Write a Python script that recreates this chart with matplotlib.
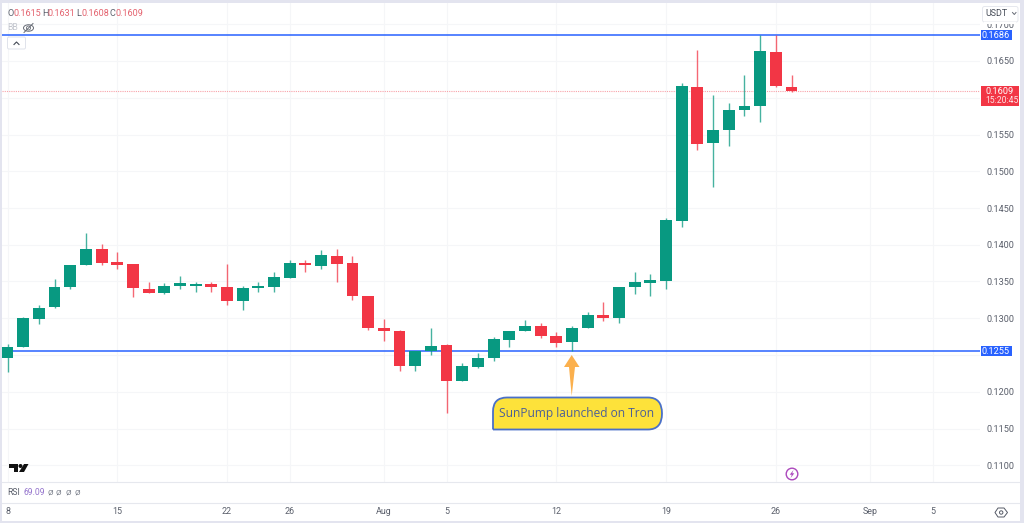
import matplotlib
matplotlib.use("Agg")
import matplotlib.pyplot as plt
from matplotlib.patches import FancyBboxPatch, Rectangle, Polygon, Circle, Ellipse, PathPatch
from matplotlib.path import Path

plt.rcParams['font.family'] = ['Roboto', 'DejaVu Sans']

opens = [.12463, .12609, .12994, .13157, .13429, .13725, .13942, .13761, .13738, .13394,
         .13344, .13443, .13443, .13470, .13429, .13235, .13412, .13421, .13552, .13748,
         .13711, .13847, .13748, .13307, .12872, .12827, .12350, .12554, .12636, .12146,
         .12341, .12463, .12704, .12831, .12895, .12763, .12677, .12863, .13040, .12999,
         .13425, .13480, .13511, .14327, .16142, .15384, .15557, .15829, .15884, .16623,
         .1615]
highs = [.12650, .13015, .13180, .13534, .13725, .14160, .14010, .13897, .13738, .13497,
         .13476, .13575, .13497, .13497, .13734, .13443, .13489, .13633, .13793, .13793,
         .13929, .13942, .13847, .13307, .12990, .12840, .12554, .12867, .12646, .12387,
         .12523, .12741, .12831, .12976, .12931, .12817, .12899, .13081, .13217, .13421,
         .13629, .13598, .14368, .16197, .16650, .16037, .15925, .16310, .16860, .16860,
         .1631]
lows = [.12273, .12605, .12922, .13140, .13398, .13720, .13725, .13666, .13285, .13344,
        .13330, .13394, .13361, .13361, .13180, .13112, .13353, .13353, .13552, .13633,
        .13674, .13497, .13248, .12840, .12695, .12286, .12286, .12504, .11707, .12146,
        .12327, .12418, .12613, .12831, .12735, .12613, .12554, .12863, .12963, .12931,
        .13326, .13307, .13394, .14238, .15289, .14790, .15348, .15756, .15674, .16146,
        .1608]
closes = [.12609, .13008, .13144, .13429, .13720, .13942, .13748, .13725, .13408, .13344,
          .13443, .13480, .13462, .13421, .13235, .13412, .13439, .13557, .13748, .13725,
          .13857, .13742, .13307, .12872, .12823, .12350, .12554, .12627, .12146, .12346,
          .12455, .12714, .12831, .12895, .12759, .12667, .12867, .13048, .13008, .13421,
          .13489, .13516, .14337, .16160, .15375, .15557, .15833, .15888, .16640, .16156,
          .1609]

time_ticks = [0, 7, 14, 18, 24, 28, 35, 42, 49, 55, 59]
time_labels = ['8', '15', '22', '26', 'Aug', '5', '12', '19', '26', 'Sep', '5']
price_ticks = [.11, .115, .12, .125, .13, .135, .14, .145, .15, .155, .16, .165, .17]
price_labels = ['0.1100', '0.1150', '0.1200', '', '0.1300', '0.1350', '0.1400', '0.1450',
                '0.1500', '0.1550', '', '0.1650', '0.1700']
support_level = 0.1255
resistance_level = 0.1686
last_price = 0.1609

W, H = 1024, 523
UP, DOWN = '#089981', '#f23645'
GRID, SEP = '#f5f6f8', '#e6e8ee'
BLUE = '#2962ff'
TXT = '#5a5f6b'

fig = plt.figure(figsize=(W / 100, H / 100), dpi=100, facecolor='white')

# candlestick axes, positioned in pixels
L, R, T, B = 2, 980, 3, 482
ax = fig.add_axes([L / W, 1 - B / H, (R - L) / W, (B - T) / H], zorder=1)
x0, dx = 7.5, 15.68
ax.set_xlim((L - x0) / dx, (R - x0) / dx)
y61, per = 0.165, 0.005 / 36.75
ax.set_ylim(y61 - (B - 61) * per, y61 + (61 - T) * per)
for s in ax.spines.values():
    s.set_visible(False)
ax.set_facecolor('white')
ax.set_xticks(time_ticks)
ax.set_xticklabels([])
ax.tick_params(length=0)
ax.yaxis.tick_right()
ax.set_yticks(price_ticks)
ax.set_yticklabels(price_labels, fontsize=6.6, color=TXT)
ax.tick_params(axis='y', pad=5)
ax.grid(True, color=GRID, lw=0.8)
ax.set_axisbelow(True)

ax.axhline(last_price, color='#f8a2a9', lw=0.8, ls=(0, (1, 1)), zorder=1.5)
ax.axhline(support_level, color=BLUE, lw=1.3, alpha=0.85, zorder=1.7)
ax.axhline(resistance_level, color=BLUE, lw=1.3, alpha=0.85, zorder=1.7)
for i, (o, h, l, c) in enumerate(zip(opens, highs, lows, closes)):
    col = UP if c >= o else DOWN
    ax.vlines(i, l, h, color=col, lw=1.0, alpha=0.75, zorder=2)
    ax.bar(i, abs(c - o), bottom=min(o, c), width=0.76, color=col, lw=0, zorder=2.2)

# overlay in pixel coordinates
ov = fig.add_axes([0, 0, 1, 1], zorder=5, facecolor='none')
ov.set_xlim(0, W)
ov.set_ylim(H, 0)
ov.axis('off')

# frame strips and panel separators
FRAME = '#e3e4ef'
for r in [(0, 0, W, 2.5), (0, 0, 2, H), (1020, 0, 4, H), (0, 521, W, 2)]:
    ov.add_patch(Rectangle(r[:2], r[2], r[3], fc=FRAME, ec='none', zorder=9))
ov.plot([2, 1020], [482, 482], color=SEP, lw=0.8)
ov.plot([2, 1020], [503, 503], color=SEP, lw=0.8)
ov.add_patch(Rectangle((2, 482.5), 1018, 20, fc='white', ec='none', zorder=0.5))
ov.add_patch(Rectangle((2, 503.5), 1018, 17.5, fc='white', ec='none', zorder=0.5))

# time axis labels from data positions
for t, lab in zip(time_ticks, time_labels):
    ov.text(x0 + dx * t, 512, lab, ha='center', va='center', fontsize=6.4, color=TXT)

# price tags
ov.add_patch(Rectangle((980.5, 30), 31, 10, fc='#2962ff', ec='none'))
ov.text(996, 35, f'{resistance_level:.4f}', ha='center', va='center', fontsize=6.6, color='white')
ov.add_patch(Rectangle((980.5, 345.5), 31, 10, fc='#2962ff', ec='none'))
ov.text(996, 351, f'{support_level:.4f}', ha='center', va='center', fontsize=6.6, color='white')
ov.add_patch(Rectangle((980.5, 86), 38, 19.5, fc=DOWN, ec='none'))
ov.text(985, 91, f'{last_price:.4f}', ha='left', va='center', fontsize=6.6, color='white')
ov.text(985, 100.5, '15:20:45', ha='left', va='center', fontsize=6.2, color='#fde3e5')

# currency box
ov.add_patch(FancyBboxPatch((982.5, 6.5), 35.5, 15.5, boxstyle='round,pad=0,rounding_size=2',
                            fc='white', ec='#e6e8ee', lw=0.7, zorder=6))
ov.add_patch(Rectangle((984, 21.5), 32, 2, fc='white', ec='none', zorder=6))
ov.text(985, 13.5, 'USDT', ha='left', va='center', fontsize=6.4, color='#444a55', zorder=7)
ov.plot([1012.5, 1014.3, 1016], [12.5, 14.5, 12.5], color='#666b75', lw=0.7, zorder=7)

# header OHLC
for a, b, xa in [('O', '0.1615', 7), ('H', '0.1631', 42), ('L', '0.1608', 76), ('C', '0.1609', 109)]:
    ov.text(xa, 13, a, ha='left', va='center', fontsize=6.6, color=TXT)
    ov.text(xa + (6 if a != 'L' else 5), 13, b, ha='left', va='center', fontsize=6.5, color='#e4626e')
ov.text(7.5, 28, 'BB', ha='left', va='center', fontsize=6.2, color='#c3c6ce')
ov.add_patch(Ellipse((28.5, 28), 10, 6.5, fc='none', ec='#666b75', lw=0.7))
ov.add_patch(Circle((28.5, 28), 2, fc='none', ec='#666b75', lw=0.6))
ov.plot([24, 33], [32.5, 23.5], color='#666b75', lw=0.7)
ov.add_patch(FancyBboxPatch((7.5, 37), 18, 12, boxstyle='round,pad=0,rounding_size=1.5',
                            fc='white', ec='#e0e3eb', lw=0.7))
ov.plot([14, 16.5, 19], [44.5, 42, 44.5], color='#444a55', lw=0.8)

# TradingView mark
ov.add_patch(Polygon([(9, 464), (18, 464), (18, 472), (14, 472), (14, 468), (9, 468)], fc='#111', ec='none'))
ov.add_patch(Circle((20.5, 466), 2, fc='#111', ec='none'))
ov.add_patch(Polygon([(24, 464), (28.5, 464), (24, 472), (19, 472)], fc='#111', ec='none'))

# RSI row
ov.text(7.5, 492.5, 'RSI', ha='left', va='center', fontsize=6.2, color=TXT)
ov.text(24, 492.5, '69.09', ha='left', va='center', fontsize=6.2, color='#9575cd')
for xz in [50.7, 58.3, 68.3, 77.3]:
    ov.text(xz, 492.5, '\u00d8', ha='center', va='center', fontsize=5.8, color='#777c88')

# lightning badge and settings icon
ov.add_patch(Circle((792, 474), 5.8, fc='white', ec='#ab47bc', lw=1))
ov.add_patch(Polygon([(793.5, 470), (789.7, 474.7), (791.8, 474.7), (790.6, 478), (794.3, 473.3), (792.2, 473.3)],
                     fc='#ab47bc', ec='none'))
ov.add_patch(Polygon([(995, 512.5), (998, 508), (1004, 508), (1007.5, 512.5), (1004, 517), (998, 517)],
                     fc='none', ec='#555a66', lw=0.7))
ov.add_patch(Circle((1001.2, 512.5), 1.7, fc='none', ec='#555a66', lw=0.7))

# arrow
ov.add_patch(Polygon([(571.7, 355), (579.5, 367), (575, 367), (571.7, 396), (569, 367), (564, 367)],
                     fc='#fbb04d', ec='none', zorder=6))

# callout
cx0, cx1, cy0, cy1, rad = 493, 662, 397.5, 429.5, 14
verts = [(cx0, cy1), (cx0, cy0 + rad), (cx0, cy0), (cx0 + rad, cy0), (cx1 - rad, cy0), (cx1, cy0),
         (cx1, cy0 + rad + 2), (cx1, cy1), (cx1 - rad, cy1), (cx0, cy1)]
codes = [Path.MOVETO, Path.LINETO, Path.CURVE3, Path.CURVE3, Path.LINETO, Path.CURVE3, Path.CURVE3,
         Path.CURVE3, Path.CURVE3, Path.LINETO]
ov.add_patch(PathPatch(Path(verts, codes), fc='#fde23a', ec='#4a70c8', lw=1.3, zorder=6))
ov.text(577, 413.5, 'SunPump launched on Tron', ha='center', va='center', fontsize=8.6,
        color='#4c5f96', family=['Open Sans'], zorder=7)

fig.savefig('out.png', dpi=100, facecolor='white')
